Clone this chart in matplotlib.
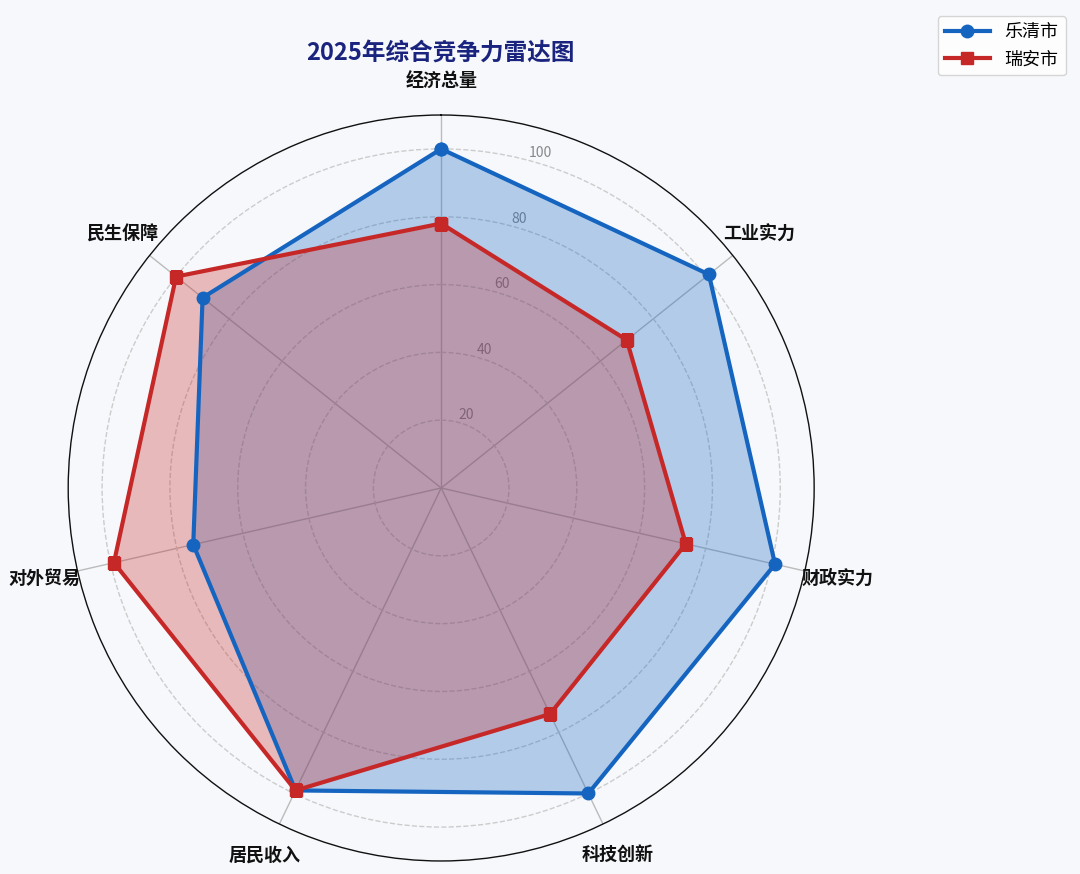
import numpy as np
import matplotlib
matplotlib.use("Agg")
import matplotlib.pyplot as plt

plt.rcParams['font.family'] = ['Noto Sans CJK SC', 'DejaVu Sans']

categories = ['经济总量', '工业实力', '财政实力', '科技创新', '居民收入', '对外贸易', '民生保障']
leqing = [100, 101, 101, 100, 99, 75, 90]
ruian = [78, 70, 74, 74, 99, 99, 100]
rticks = [20, 40, 60, 80, 100]

bg = '#f6f8fb'
fig = plt.figure(figsize=(10.8, 8.74), dpi=100, facecolor=bg)
ax = fig.add_axes([0.063, 0.0149, 0.691, 0.8535], projection='polar', facecolor=bg)
ax.set_theta_offset(np.pi / 2)
ax.set_theta_direction(-1)

n = len(categories)
ang = np.linspace(0, 2 * np.pi, n, endpoint=False)
angc = np.concatenate([ang, ang[:1]])

def closed(v):
    return np.concatenate([v, v[:1]])

ax.fill(angc, closed(leqing), color='#1565c0', alpha=0.3, zorder=2)
ax.plot(angc, closed(leqing), color='#1565c0', lw=3, marker='o', ms=9, label='乐清市', zorder=4)
ax.fill(angc, closed(ruian), color='#c62828', alpha=0.3, zorder=2)
ax.plot(angc, closed(ruian), color='#c62828', lw=3, marker='s', ms=9, label='瑞安市', zorder=4)

ax.set_ylim(0, 110)
ax.set_yticks(rticks)
ax.set_yticklabels([str(t) for t in rticks], color='#888888', fontsize=10)
ax.set_rlabel_position(15)
ax.yaxis.grid(True, color='#cccccc', ls='--', lw=1)
ax.xaxis.grid(True, color='#bbbbbb', ls='-', lw=1)
ax.set_xticks(ang)
ax.set_xticklabels(categories, fontsize=13, fontweight='bold', color='#111111')
ax.tick_params(axis='x', pad=14)
ax.spines['polar'].set_color('#111111')
ax.spines['polar'].set_linewidth(1)

fig.text(0.408, 0.94, '2025年综合竞争力雷达图', ha='center', va='center',
         fontsize=17, fontweight='bold', color='#1a237e')
fig.legend(loc='upper right', bbox_to_anchor=(0.995, 0.992), fontsize=13,
           frameon=True, facecolor='white', edgecolor='#cccccc', handlelength=2.5)

fig.savefig('out.png', dpi=100, facecolor=bg)
